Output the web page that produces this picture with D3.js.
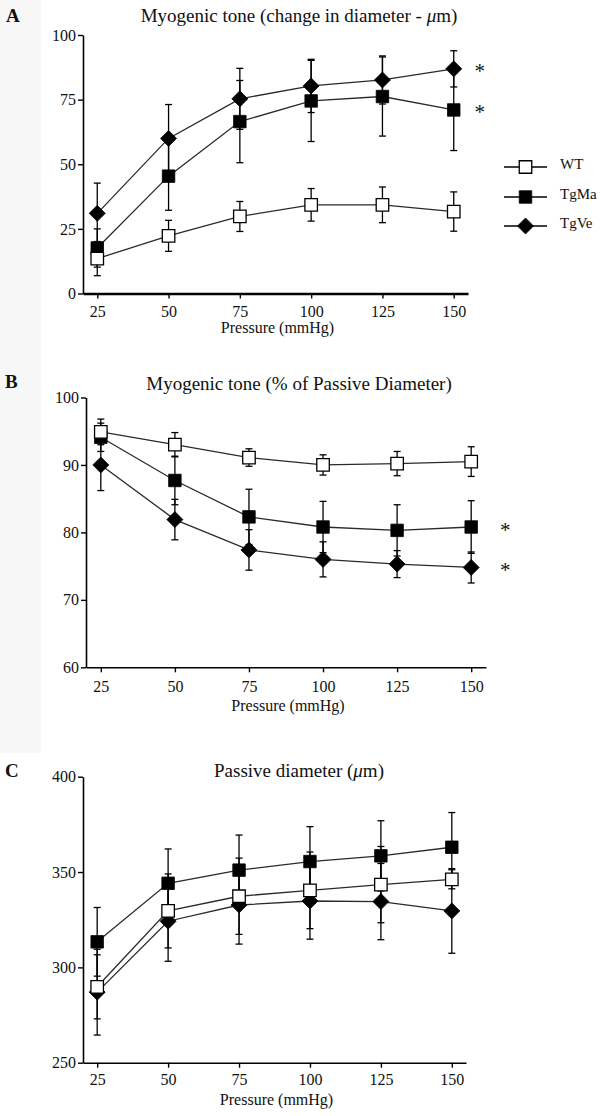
<!DOCTYPE html>
<html><head><meta charset="utf-8">
<script src="https://cdn.jsdelivr.net/npm/d3@7"></script>
<style>
body{margin:0;background:#fff}
svg{display:block}
text{font-family:"Liberation Serif","Times New Roman",Times,serif;fill:#111}
</style>
</head><body>
<svg id="chart" width="605" height="1116"></svg>
<script>
// ---------- data ----------
const pressures = [25, 50, 75, 100, 125, 150];
const xTickLabels = ["25", "50", "75", "100", "125", "150"];
const seriesNames = ["WT", "TgMa", "TgVe"];
const xAxisTitle = "Pressure (mmHg)";

// Panel A: myogenic tone (change in diameter, µm)
const toneDiamWT     = [13.5, 22.3, 29.8, 34.3, 34.3, 31.7];
const toneDiamWTErr  = [6.6, 6.0, 5.8, 6.3, 6.9, 7.6];
const toneDiamMa     = [17.6, 45.4, 66.5, 74.5, 76.2, 71.0];
const toneDiamMaErr  = [7.4, 13.2, 15.9, 15.7, 15.3, 15.7];
const toneDiamVe     = [31.0, 60.0, 75.3, 80.3, 82.6, 86.9];
const toneDiamVeErr  = [11.7, 13.1, 11.8, 10.3, 9.3, 7.0];
const ticksA = [0, 25, 50, 75, 100];

// Panel B: myogenic tone (% of passive diameter)
const tonePctWT      = [94.9, 93.0, 91.1, 90.0, 90.2, 90.5];
const tonePctWTErr   = [1.9, 1.8, 1.3, 1.5, 1.8, 2.2];
const tonePctMa      = [94.1, 87.7, 82.3, 80.8, 80.3, 80.8];
const tonePctMaErr   = [2.1, 3.6, 4.1, 3.8, 3.8, 3.9];
const tonePctVe      = [90.0, 81.9, 77.4, 76.0, 75.3, 74.8];
const tonePctVeErr   = [3.8, 3.0, 3.0, 2.6, 2.0, 2.3];
const ticksB = [60, 70, 80, 90, 100];

// Panel C: passive diameter (µm)
const passWT         = [289.8, 329.6, 337.3, 340.4, 343.4, 346.2];
const passWTErr      = [16.8, 19.4, 20.0, 20.1, 20.0, 5.0];
const passMa         = [313.4, 344.1, 351.0, 355.5, 358.5, 363.0];
const passMaErr      = [18.0, 18.0, 18.4, 18.3, 18.4, 18.2];
const passVe         = [287.0, 324.2, 332.7, 334.8, 334.5, 329.6];
const passVeErr      = [22.5, 21.0, 20.5, 20.0, 20.0, 22.2];
const ticksC = [250, 300, 350, 400];

// ---------- layout ----------
const svg = d3.select("#chart");
svg.append("rect").attr("x", 0).attr("y", 0).attr("width", 41).attr("height", 753).attr("fill", "#f7f7f7");

const panels = [
  { letter: "A", title: [["Myogenic tone (change in diameter - ", "normal"], ["\u03bc", "italic"], ["m)", "normal"]],
    yDomain: [0, 100], yTicks: ticksA,
    values: [toneDiamWT, toneDiamMa, toneDiamVe], errs: [toneDiamWTErr, toneDiamMaErr, toneDiamVeErr],
    stars: [2, 1], starDx: 26,
    left: 83, right: 468, top: 35, bottom: 293.5, xAxisW: 2.6,
    titleY: 22, letterX: 6, letterY: 22, tickPad: 7, labelY: 333, legend: true },
  { letter: "B", title: [["Myogenic tone (% of Passive Diameter)", "normal"]],
    yDomain: [60, 100], yTicks: ticksB,
    values: [tonePctWT, tonePctMa, tonePctVe], errs: [tonePctWTErr, tonePctMaErr, tonePctVeErr],
    stars: [1, 2], starDx: 34,
    left: 86, right: 486, top: 397.5, bottom: 667.3, xAxisW: 1.6,
    titleY: 390, letterX: 5, letterY: 388, tickPad: 8.3, labelY: 711, legend: false },
  { letter: "C", title: [["Passive diameter (", "normal"], ["\u03bc", "italic"], ["m)", "normal"]],
    yDomain: [250, 400], yTicks: ticksC,
    values: [passWT, passMa, passVe], errs: [passWTErr, passMaErr, passVeErr],
    stars: [], starDx: 0,
    left: 83, right: 466, top: 776.7, bottom: 1062.7, xAxisW: 1.6,
    titleY: 777, letterX: 5, letterY: 777, tickPad: 6.4, labelY: 1105, legend: false }
];

const lineColor = "#2a2a2a";
const sq = 12.5, dia = 8;
function markerPath(i) {
  if (i === 2) return `M0,${-dia}L${dia},0L0,${dia}L${-dia},0Z`;
  const h = sq / 2;
  return `M${-h},${-h}H${h}V${h}H${-h}Z`;
}
function markerFill(i) { return i === 0 ? "#fff" : "#000"; }

panels.forEach(p => {
  const g = svg.append("g");
  const x = d3.scaleLinear().domain([20, 155]).range([p.left, p.right]);
  const y = d3.scaleLinear().domain(p.yDomain).range([p.bottom, p.top]);

  // title & letter
  const t = g.append("text").attr("x", 299).attr("y", p.titleY).attr("text-anchor", "middle").attr("font-size", 19);
  p.title.forEach(([s, st]) => t.append("tspan").attr("font-style", st).text(s));
  g.append("text").attr("x", p.letterX).attr("y", p.letterY).attr("font-size", 19).attr("font-weight", "bold").text(p.letter);

  // axes
  const ya = g.append("g").attr("transform", `translate(${p.left},0)`)
    .call(d3.axisLeft(y).tickValues(p.yTicks).tickSize(5).tickSizeOuter(0).tickPadding(2).tickFormat(d3.format("d")));
  const xa = g.append("g").attr("transform", `translate(0,${p.bottom})`)
    .call(d3.axisBottom(x).tickValues(pressures).tickSize(5).tickSizeOuter(0).tickPadding(p.tickPad)
      .tickFormat((d, i) => xTickLabels[i]));
  [ya, xa].forEach(a => {
    a.attr("font-family", null).attr("font-size", null);
    a.selectAll("text").attr("font-size", 16).attr("fill", "#111");
    a.selectAll("line").attr("stroke", "#000").attr("stroke-width", 1.4);
  });
  ya.select(".domain").attr("stroke", "#000").attr("stroke-width", 1.6);
  xa.select(".domain").attr("stroke", "#000").attr("stroke-width", p.xAxisW);

  g.append("text").attr("x", (p.left + p.right) / 2 + 2).attr("y", p.labelY)
    .attr("text-anchor", "middle").attr("font-size", 16).text(xAxisTitle);

  // error bars
  const order = [2, 1, 0];
  order.forEach(si => {
    const vals = p.values[si], errs = p.errs[si];
    const eg = g.append("g").attr("stroke", "#000").attr("stroke-width", 1.3);
    pressures.forEach((pr, k) => {
      const cx = x(pr), y1 = y(vals[k] + errs[k]), y2 = y(vals[k] - errs[k]);
      eg.append("line").attr("x1", cx).attr("x2", cx).attr("y1", y1).attr("y2", y2);
      eg.append("line").attr("x1", cx - 3.5).attr("x2", cx + 3.5).attr("y1", y1).attr("y2", y1);
      eg.append("line").attr("x1", cx - 3.5).attr("x2", cx + 3.5).attr("y1", y2).attr("y2", y2);
    });
  });
  // lines
  order.forEach(si => {
    const vals = p.values[si];
    g.append("path").datum(pressures.map((pr, k) => [pr, vals[k]]))
      .attr("fill", "none").attr("stroke", lineColor).attr("stroke-width", 1.3)
      .attr("d", d3.line().x(d => x(d[0])).y(d => y(d[1])));
  });
  // markers
  order.forEach(si => {
    const vals = p.values[si];
    g.append("g").selectAll("path").data(pressures).join("path")
      .attr("transform", (pr, k) => `translate(${x(pr)},${y(vals[k])})`)
      .attr("d", markerPath(si)).attr("fill", markerFill(si))
      .attr("stroke", "#000").attr("stroke-width", si === 0 ? 1.3 : 0.8);
  });
  // significance stars
  p.stars.forEach(si => {
    const last = p.values[si][p.values[si].length - 1];
    g.append("text").attr("x", x(150) + p.starDx).attr("y", y(last) + 9.5)
      .attr("text-anchor", "middle").attr("font-size", 21).attr("fill", "#333").text("*");
  });

  // legend
  if (p.legend) {
    const lx1 = 504, lx2 = 547, lcx = 525.5, rows = [167, 197, 226];
    seriesNames.forEach((name, si) => {
      const ly = rows[si];
      g.append("line").attr("x1", lx1).attr("x2", lx2).attr("y1", ly).attr("y2", ly)
        .attr("stroke", "#000").attr("stroke-width", 1.3);
      g.append("path").attr("transform", `translate(${lcx},${ly})`).attr("d", markerPath(si))
        .attr("fill", markerFill(si)).attr("stroke", "#000").attr("stroke-width", si === 0 ? 1.3 : 0.8);
      g.append("text").attr("x", 560).attr("y", ly + 2).attr("font-size", 15).text(name);
    });
  }
});
</script>
</body></html>
